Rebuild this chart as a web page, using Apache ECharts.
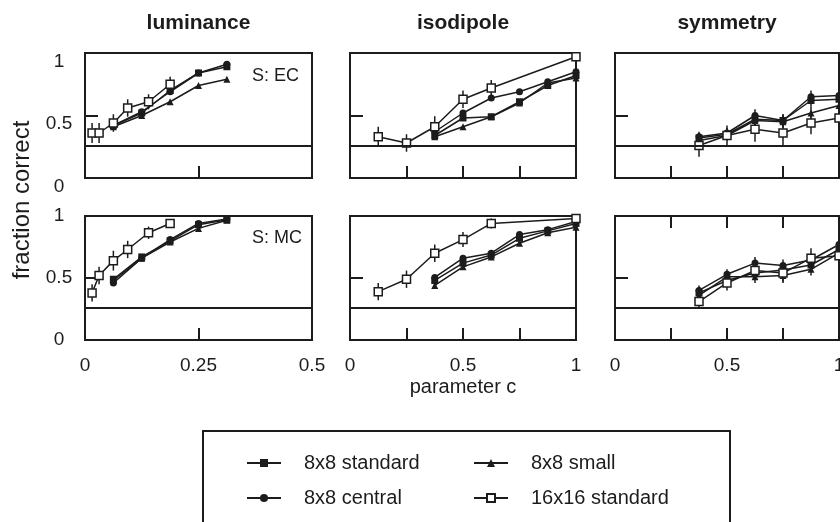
<!DOCTYPE html>
<html>
<head>
<meta charset="utf-8">
<script src="https://cdn.jsdelivr.net/npm/echarts@6/dist/echarts.min.js"></script>
<style>
  html, body { margin: 0; padding: 0; background: #fff; }
  #chart { width: 840px; height: 522px; }
</style>
</head>
<body>
<div id="chart"></div>
<script>
// ---- data ----
const seriesNames = ["8x8 standard", "8x8 central", "8x8 small", "16x16 standard"];
const columnTitles = ["luminance", "isodipole", "symmetry"];
const rowTags = ["S: EC", "S: MC"];
const chance = 0.26;

// luminance
const lumX8 = [0.0625, 0.125, 0.1875, 0.25, 0.3125];
const lumX16 = [0.0156, 0.031, 0.0625, 0.094, 0.14, 0.1875];
const lumEcStd = [0.42, 0.52, 0.70, 0.84, 0.89];
const lumEcCen = [0.42, 0.53, 0.69, 0.84, 0.91];
const lumEcSml = [0.41, 0.50, 0.61, 0.74, 0.79];
const lumEc16 = [0.36, 0.36, 0.44, 0.56, 0.61, 0.75];
const lumEc16Err = [0.08, 0.08, 0.07, 0.07, 0.06, 0.06];
const lumMcStd = [0.49, 0.67, 0.80, 0.93, 0.97];
const lumMcCen = [0.46, 0.66, 0.81, 0.94, 0.975];
const lumMcSml = [0.48, 0.66, 0.79, 0.90, 0.965];
const lumMc16 = [0.38, 0.52, 0.64, 0.73, 0.865, 0.94];
const lumMc16Err = [0.07, 0.07, 0.08, 0.07, 0.05, 0.035];

// isodipole
const isoX8 = [0.375, 0.5, 0.625, 0.75, 0.875, 1.0];
const isoX16 = [0.125, 0.25, 0.375, 0.5, 0.625, 1.0];
const isoEcStd = [0.34, 0.48, 0.49, 0.61, 0.74, 0.82];
const isoEcCen = [0.37, 0.52, 0.64, 0.69, 0.77, 0.85];
const isoEcSml = [0.33, 0.41, 0.49, 0.60, 0.76, 0.80];
const isoEc16 = [0.33, 0.28, 0.41, 0.63, 0.72, 0.97];
const isoEc16Err = [0.08, 0.07, 0.085, 0.07, 0.065, 0.02];
const isoMcStd = [0.48, 0.62, 0.685, 0.82, 0.88, 0.94];
const isoMcCen = [0.505, 0.66, 0.70, 0.85, 0.89, 0.955];
const isoMcSml = [0.44, 0.59, 0.67, 0.78, 0.865, 0.91];
const isoMc16 = [0.39, 0.49, 0.70, 0.81, 0.94, 0.98];
const isoMc16Err = [0.07, 0.07, 0.07, 0.06, 0.04, 0.02];

// symmetry
const symX = [0.375, 0.5, 0.625, 0.75, 0.875, 1.0];
const symEcStd = [0.32, 0.35, 0.47, 0.46, 0.62, 0.63];
const symEcCen = [0.33, 0.36, 0.50, 0.46, 0.65, 0.66];
const symEcSml = [0.30, 0.34, 0.46, 0.45, 0.52, 0.58];
const symEc16 = [0.26, 0.34, 0.39, 0.36, 0.44, 0.48];
const symEcErr = [0.04, 0.04, 0.05, 0.05, 0.05, 0.05];
const symEc16Err = [0.09, 0.08, 0.10, 0.10, 0.09, 0.09];
const symMcStd = [0.38, 0.48, 0.54, 0.565, 0.605, 0.73];
const symMcCen = [0.40, 0.53, 0.62, 0.60, 0.645, 0.77];
const symMcSml = [0.36, 0.51, 0.51, 0.52, 0.57, 0.70];
const symMc16 = [0.31, 0.46, 0.56, 0.54, 0.66, 0.68];
const symMcErr = [0.04, 0.04, 0.05, 0.05, 0.05, 0.05];
const symMc16Err = [0.06, 0.06, 0.07, 0.08, 0.08, 0.06];

// one entry per panel, row-major (EC row, then MC row)
const panels = [
  { xs: [lumX8, lumX8, lumX8, lumX16], ys: [lumEcStd, lumEcCen, lumEcSml, lumEc16], errs: [null, null, null, lumEc16Err] },
  { xs: [isoX8, isoX8, isoX8, isoX16], ys: [isoEcStd, isoEcCen, isoEcSml, isoEc16], errs: [null, null, null, isoEc16Err] },
  { xs: [symX, symX, symX, symX], ys: [symEcStd, symEcCen, symEcSml, symEc16], errs: [symEcErr, symEcErr, symEcErr, symEc16Err] },
  { xs: [lumX8, lumX8, lumX8, lumX16], ys: [lumMcStd, lumMcCen, lumMcSml, lumMc16], errs: [null, null, null, lumMc16Err] },
  { xs: [isoX8, isoX8, isoX8, isoX16], ys: [isoMcStd, isoMcCen, isoMcSml, isoMc16], errs: [null, null, null, isoMc16Err] },
  { xs: [symX, symX, symX, symX], ys: [symMcStd, symMcCen, symMcSml, symMc16], errs: [symMcErr, symMcErr, symMcErr, symMc16Err] }
];

// ---- look ----
const FONT = "Liberation Sans, Arial, sans-serif";
const INK = "#1c1c1c";
const colLeft = [85, 350, 615];
const colWidth = [227, 226, 224];
const rowTop = [53, 216];
const rowHeight = [125, 124];
const symbols = ["rect", "circle", "triangle", "rect"];
const symbolSizes = [7, 7, 7, 8];

let chart = echarts.init(document.getElementById("chart"));

let grid = [], xAxis = [], yAxis = [], series = [];

panels.forEach((p, i) => {
  const row = Math.floor(i / 3);
  const col = i % 3;
  grid.push({
    left: colLeft[col], top: rowTop[row], width: colWidth[col], height: rowHeight[row],
    outerBoundsMode: "none", containLabel: false,
    show: true, borderColor: INK, borderWidth: 2, backgroundColor: "transparent"
  });
  xAxis.push({
    type: "value", gridIndex: i, min: 0, max: col === 0 ? 0.5 : 1, interval: 0.25,
    axisLine: { show: false },
    splitLine: { show: false },
    axisTick: { inside: true, length: 12, lineStyle: { color: INK, width: 2 } },
    axisLabel: {
      show: row === 1, margin: 16, fontSize: 19, fontFamily: FONT, color: INK,
      formatter: v => (col === 0 || v * 2 === Math.round(v * 2)) ? String(v) : ""
    }
  });
  // labels in the upper row sit a little below their ticks
  yAxis.push({
    type: "value", gridIndex: i, min: 0, max: 1, interval: 0.5,
    axisLine: { show: false },
    splitLine: { show: false },
    axisTick: { inside: true, length: 13, lineStyle: { color: INK, width: 2 } },
    axisLabel: Object.assign(
      { show: col === 0, align: "center", margin: 26, fontSize: 19, fontFamily: FONT, color: INK },
      row === 0 ? { verticalAlign: "top", lineHeight: 17 } : {}
    )
  });

  seriesNames.forEach((name, s) => {
    const open = s === 3;
    const line = {
      name: name, type: "line", xAxisIndex: i, yAxisIndex: i,
      data: p.xs[s].map((x, k) => [x, p.ys[s][k]]),
      symbol: symbols[s], symbolSize: symbolSizes[s], showAllSymbol: true,
      lineStyle: { color: INK, width: 1.5 },
      itemStyle: open
        ? { color: "#fff", borderColor: INK, borderWidth: 1.5 }
        : { color: INK, borderColor: INK, borderWidth: 0 },
      z: open ? 4 : 3
    };
    if (s === 0) {
      line.markLine = {
        silent: true, symbol: "none", label: { show: false },
        lineStyle: { color: INK, width: 2, type: "solid" },
        data: [{ yAxis: chance }]
      };
    }
    series.push(line);

    if (p.errs[s]) {
      series.push({
        type: "custom", xAxisIndex: i, yAxisIndex: i, z: 2, silent: true,
        data: p.xs[s].map((x, k) => [x, p.ys[s][k], p.errs[s][k]]),
        renderItem: (params, api) => {
          const x = api.value(0), y = api.value(1), e = api.value(2);
          const a = api.coord([x, y - e]);
          const b = api.coord([x, y + e]);
          return {
            type: "line",
            shape: { x1: a[0], y1: a[1], x2: b[0], y2: b[1] },
            style: { stroke: INK, lineWidth: 1.5 }
          };
        }
      });
    }
  });
});

// extra inward ticks along the top edge of the lower right panel
xAxis.push({
  type: "value", gridIndex: 5, position: "top", min: 0, max: 1, interval: 0.25,
  axisLine: { show: false }, splitLine: { show: false },
  axisTick: { inside: true, length: 12, lineStyle: { color: INK, width: 2 } },
  axisLabel: { show: false }
});

const textStyle = { fontFamily: FONT, fill: INK, align: "center", verticalAlign: "middle" };

let graphic = [];
columnTitles.forEach((t, c) => {
  graphic.push({
    type: "text", x: colLeft[c] + colWidth[c] / 2, y: 23,
    style: Object.assign({ text: t, fontSize: 21, fontWeight: "bold" }, textStyle)
  });
});
rowTags.forEach((t, r) => {
  graphic.push({
    type: "text", x: 252, y: r === 0 ? 76 : 238,
    style: Object.assign({}, textStyle, { text: t, fontSize: 18, align: "left" })
  });
});
graphic.push({
  type: "text", x: 22, y: 200, rotation: Math.PI / 2,
  style: Object.assign({ text: "fraction correct", fontSize: 24 }, textStyle)
});
graphic.push({
  type: "text", x: 463, y: 387,
  style: Object.assign({ text: "parameter c", fontSize: 20 }, textStyle)
});
graphic.push({
  type: "rect", shape: { x: 203, y: 431, width: 527, height: 110 },
  style: { fill: "none", stroke: INK, lineWidth: 2 }
});

const legendBase = {
  orient: "vertical", top: 448, itemWidth: 34, itemHeight: 10, itemGap: 15,
  selectedMode: false,
  textStyle: { fontSize: 20, fontFamily: FONT, color: INK, padding: [0, 0, 0, 18] }
};

chart.setOption({
  animation: false,
  backgroundColor: "#fff",
  grid: grid,
  xAxis: xAxis,
  yAxis: yAxis,
  legend: [
    Object.assign({ left: 241, data: ["8x8 standard", "8x8 central"] }, legendBase),
    Object.assign({ left: 468, data: ["8x8 small", "16x16 standard"] }, legendBase)
  ],
  graphic: graphic,
  series: series
});
</script>
</body>
</html>
